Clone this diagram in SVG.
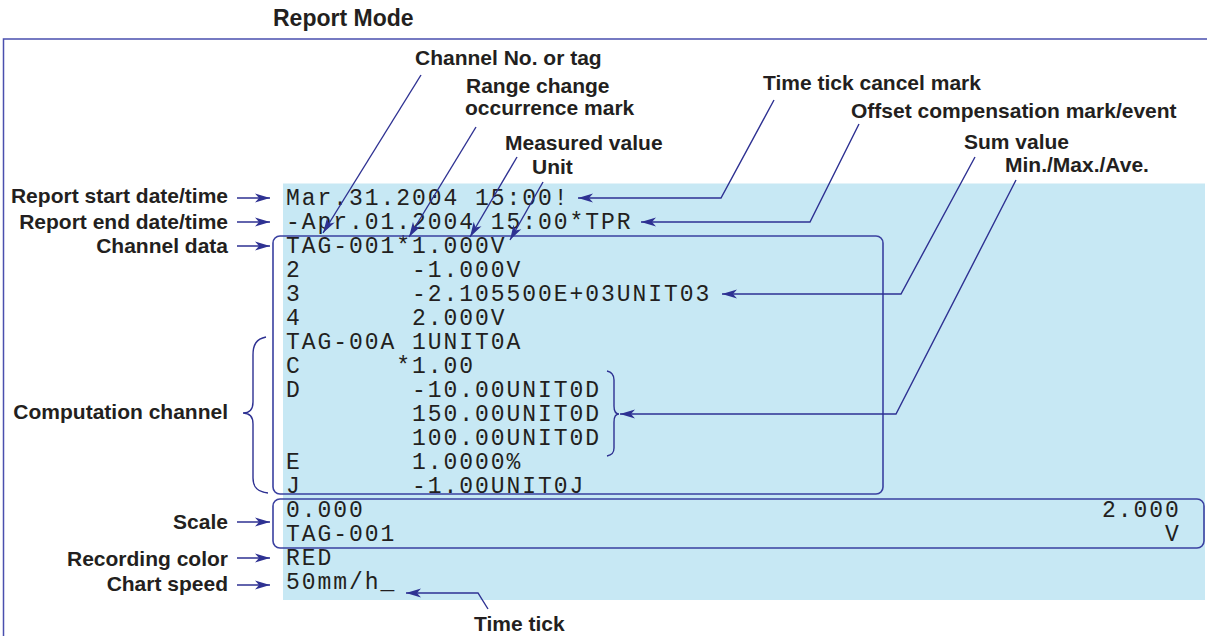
<svg xmlns="http://www.w3.org/2000/svg" width="1207" height="636" viewBox="0 0 1207 636">
<style>
.lbl{font-family:"Liberation Sans",Arial,Helvetica,sans-serif;font-weight:bold;font-size:21px;fill:#231f20}
.mono{font-family:"Liberation Mono","Courier New",monospace;font-size:23px;letter-spacing:1.95px;fill:#231f20}
.ln{fill:none;stroke:#2e3192;stroke-width:1.4}
.box{fill:none;stroke:#3a40a0;stroke-width:1.6}
</style>
<defs>
<marker id="ah" markerUnits="userSpaceOnUse" markerWidth="16" markerHeight="10" refX="15" refY="5" orient="auto">
<path d="M0,0.5 L15,5 L0,9.5 L4,5 z" fill="#2e3192"/>
</marker>
</defs>
<path d="M1207,39 H3.5 V636" fill="none" stroke="#4a4fae" stroke-width="1.5"/>
<rect x="283" y="183.5" width="922" height="416.5" fill="#c7e8f4"/>
<text class="lbl" x="273" y="26" style="font-size:23px">Report Mode</text>

<g id="printout">
<text class="mono" x="286" y="205">Mar.31.2004 15:00!</text>
<text class="mono" x="286" y="229">-Apr.01.2004 15:00*TPR</text>
<text class="mono" x="286" y="253" xml:space="preserve">TAG-001*1.000V</text>
<text class="mono" x="286" y="277" xml:space="preserve">2       -1.000V</text>
<text class="mono" x="286" y="301" xml:space="preserve">3       -2.105500E+03UNIT03</text>
<text class="mono" x="286" y="325" xml:space="preserve">4       2.000V</text>
<text class="mono" x="286" y="349" xml:space="preserve">TAG-00A 1UNIT0A</text>
<text class="mono" x="286" y="373" xml:space="preserve">C      *1.00</text>
<text class="mono" x="286" y="397" xml:space="preserve">D       -10.00UNIT0D</text>
<text class="mono" x="286" y="421" xml:space="preserve">        150.00UNIT0D</text>
<text class="mono" x="286" y="445" xml:space="preserve">        100.00UNIT0D</text>
<text class="mono" x="286" y="469" xml:space="preserve">E       1.0000%</text>
<text class="mono" x="286" y="493" xml:space="preserve">J       -1.00UNIT0J</text>
<text class="mono" x="286" y="517">0.000</text>
<text class="mono" x="1102" y="517">2.000</text>
<text class="mono" x="286" y="541">TAG-001</text>
<text class="mono" x="1165" y="541">V</text>
<text class="mono" x="286" y="565">RED</text>
<text class="mono" x="286" y="589">50mm/h_</text>
</g>

<g id="channel-data-box"><rect class="box" x="273" y="236" width="610" height="258" rx="7"/></g>
<g id="scale-box"><rect class="box" x="273" y="499" width="931" height="49" rx="7"/></g>

<g id="label-channel-no"><text class="lbl" x="415" y="65">Channel No. or tag</text></g>
<g id="label-range-change"><text class="lbl" x="466" y="93">Range change</text><text class="lbl" x="465" y="115">occurrence mark</text></g>
<g id="label-measured"><text class="lbl" x="505" y="150">Measured value</text></g>
<g id="label-unit"><text class="lbl" x="532" y="174">Unit</text></g>
<g id="label-time-tick-cancel"><text class="lbl" x="763" y="90">Time tick cancel mark</text></g>
<g id="label-offset"><text class="lbl" x="851" y="118">Offset compensation mark/event</text></g>
<g id="label-sum"><text class="lbl" x="964" y="149">Sum value</text></g>
<g id="label-minmax"><text class="lbl" x="1005" y="172">Min./Max./Ave.</text></g>
<g id="label-start"><text class="lbl" x="228" y="203" text-anchor="end">Report start date/time</text></g>
<g id="label-end"><text class="lbl" x="228" y="229" text-anchor="end">Report end date/time</text></g>
<g id="label-channel-data"><text class="lbl" x="228" y="253" text-anchor="end">Channel data</text></g>
<g id="label-computation"><text class="lbl" x="228" y="419" text-anchor="end">Computation channel</text></g>
<g id="label-scale"><text class="lbl" x="228" y="529" text-anchor="end">Scale</text></g>
<g id="label-recording-color"><text class="lbl" x="228" y="566" text-anchor="end">Recording color</text></g>
<g id="label-chart-speed"><text class="lbl" x="228" y="591" text-anchor="end">Chart speed</text></g>
<g id="label-time-tick"><text class="lbl" x="474" y="631">Time tick</text></g>

<g id="connectors">
<path class="ln" d="M421,75 L323,233" marker-end="url(#ah)"/>
<path class="ln" d="M476,127 L409,237" marker-end="url(#ah)"/>
<path class="ln" d="M517,157 L470,237" marker-end="url(#ah)"/>
<path class="ln" d="M543,182 L510,240" marker-end="url(#ah)"/>
<path class="ln" d="M774,100 L721,198 H578" marker-end="url(#ah)"/>
<path class="ln" d="M859,124 L810,222 H641" marker-end="url(#ah)"/>
<path class="ln" d="M975,157 L901,294 H722" marker-end="url(#ah)"/>
<path class="ln" d="M1016,180 L896,414 H620" marker-end="url(#ah)"/>
<path class="ln" d="M488,609 L478,593 H406" marker-end="url(#ah)"/>
<path class="ln" d="M237,198 H270" marker-end="url(#ah)"/>
<path class="ln" d="M237,222 H270" marker-end="url(#ah)"/>
<path class="ln" d="M237,246 H270" marker-end="url(#ah)"/>
<path class="ln" d="M237,522 H270" marker-end="url(#ah)"/>
<path class="ln" d="M237,558 H270" marker-end="url(#ah)"/>
<path class="ln" d="M237,585 H270" marker-end="url(#ah)"/>
<path class="ln" d="M266,337 C256,339 253,345 253,355 L253,402 C253,410 249,413 243,413 C249,413 253,416 253,424 L253,478 C253,488 258,492 268,493"/>
<path class="ln" d="M607,371 C612,372 614,375 614,380 L614,406 C614,411 616,414 619,414 C616,414 614,417 614,422 L614,448 C614,453 612,455 607,456"/>
</g>
</svg>
